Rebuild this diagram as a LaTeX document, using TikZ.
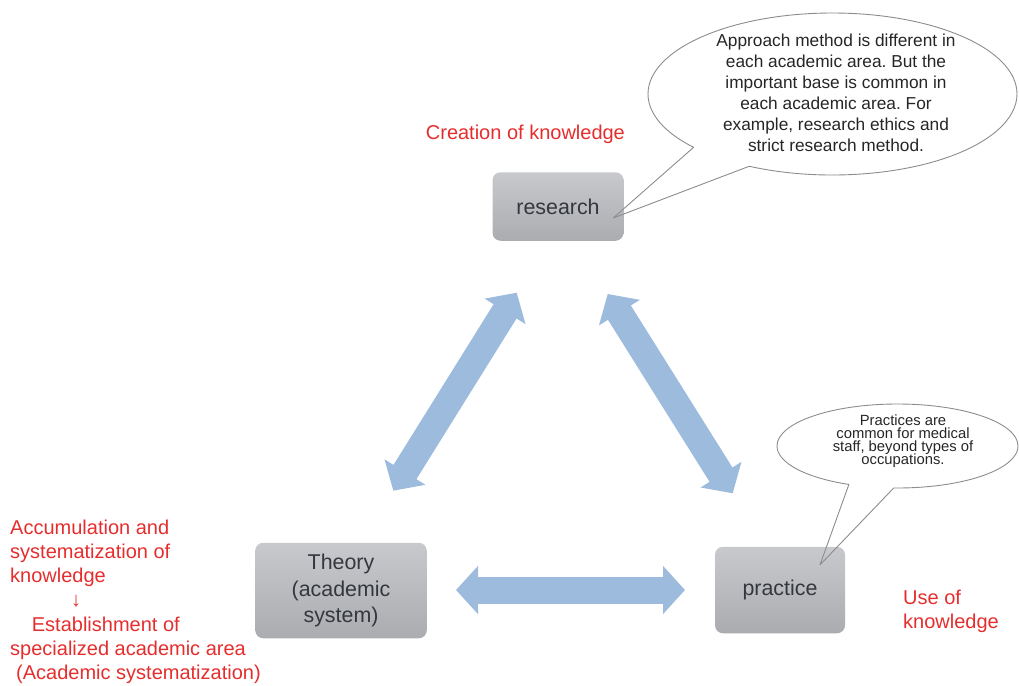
\documentclass[tikz,border=0pt]{standalone}
\usepackage{fontspec}
\setmainfont{Liberation Sans}
\usetikzlibrary{arrows.meta,shapes.callouts,calc}
\definecolor{boxtop}{RGB}{200,201,204}
\definecolor{boxbot}{RGB}{170,172,176}
\definecolor{boxtext}{RGB}{52,55,62}
\definecolor{labred}{RGB}{230,45,45}
\definecolor{arrowblue}{RGB}{157,187,221}
\definecolor{notegray}{RGB}{140,140,140}
\lineskiplimit=-20pt
\frenchspacing
\begin{document}
\begin{tikzpicture}[x=1pt,y=-1pt,line join=round,
	stage/.style={rounded corners=8pt,top color=boxtop,bottom color=boxbot,text=boxtext,
		font=\fontsize{21.4}{26.5}\selectfont,align=center,inner sep=0pt},
	redlabel/.style={text=labred,font=\fontsize{20}{24.5}\selectfont,inner sep=0pt,align=left},
	bigarrow/.style={draw=arrowblue,line width=27pt,
		{Triangle[width=47pt,length=22pt]}-{Triangle[width=47pt,length=22pt]}},
	note/.style={ellipse callout,draw=notegray,line width=0.9pt,inner sep=0pt,callout pointer arc=22},
	notetext/.style={text=black!85,align=center,inner sep=0pt}]
	\useasboundingbox (0,0) rectangle (1019,685);
	\node[stage,minimum width=131pt,minimum height=68.5pt] (research) at (558,206.5) {research};
	\node[stage,minimum width=171.5pt,minimum height=95.5pt] (theory) at (341,590.5) {Theory\\(academic\\system)};
	\node[stage,minimum width=130pt,minimum height=86.5pt] (practice) at (780,590) {practice};
	\coordinate (tr1) at (393.3,490.7);
	\coordinate (tr2) at (516.7,292.7);
	\coordinate (rp1) at (607.7,294);
	\coordinate (rp2) at (732.7,493.3);
	\coordinate (tp1) at (456,590);
	\coordinate (tp2) at (685,590);
	\draw[bigarrow] (tr1)--(tr2);
	\draw[bigarrow] (rp1)--(rp2);
	\draw[bigarrow] (tp1)--(tp2);
	\node[note,minimum width=369pt,minimum height=162pt,
		callout absolute pointer={($(research.east)+(-10.5,11.5)$)}] (researchnote) at (832.5,94) {};
	\node[notetext,font=\fontsize{17.3}{21}\selectfont] (researchtext) at (836,93.3)
		{Approach method is different in\\each academic area. But the\\important base is common in\\each academic area. For\\example, research ethics and\\strict research method.};
	\node[note,minimum width=241pt,minimum height=84pt,
		callout absolute pointer={($(practice.north)+(40,18.3)$)}] (practicenote) at (897.5,446) {};
	\node[notetext,font=\fontsize{14.8}{13}\selectfont] (practicetext) at (903,441)
		{Practices are\\common for medical\\staff, beyond types of\\occupations.};
	\node[redlabel,anchor=base west] (creation) at (425.7,139.2) {Creation of knowledge};
	\node[redlabel,anchor=north west] (use) at (903,589.4) {Use of\\knowledge};
	\node[redlabel,anchor=north west,font=\fontsize{20}{24.2}\selectfont] (accumulation) at (10,519.5)
		{Accumulation and\\systematization of\\knowledge\\\hspace*{61pt}↓\\\hspace*{21.7pt}Establishment of\\specialized academic area\\\hspace*{6pt}(Academic systematization)};
\end{tikzpicture}
\end{document}
